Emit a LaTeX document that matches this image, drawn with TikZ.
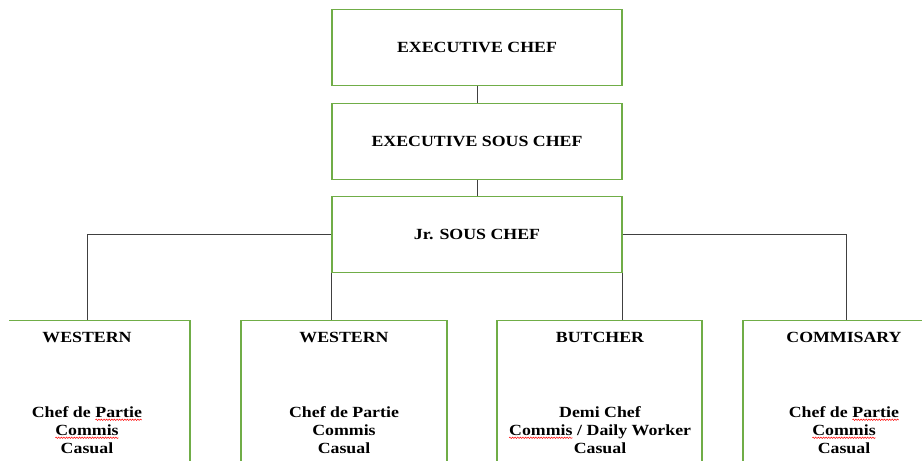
\documentclass[tikz,border=0pt]{standalone}
\usepackage{fontspec}
\newfontfamily\tnr{Liberation Serif}[FakeStretch=1.15]
\usetikzlibrary{decorations.pathmorphing}
\definecolor{boxgreen}{HTML}{70AD47}
\definecolor{linegray}{HTML}{404040}
\newcommand\sqw[1]{\tikz[baseline=(w.base)]{\node[inner sep=0pt,outer sep=0pt,anchor=base](w) at (0,0){#1};\draw[red,line width=0.5pt,decorate,decoration={snake,amplitude=0.7pt,segment length=2.6pt}]([yshift=-2.4pt]w.base west)--([yshift=-2.4pt]w.base east);}}
\begin{document}
\begin{tikzpicture}[x=1pt,y=-1pt,
  box/.style={draw=boxgreen,line width=1.3pt,fill=white,inner sep=0pt},
  topbox/.style={box,minimum width=290pt,minimum height=76pt},
  lowbox/.style={box,minimum width=206pt,minimum height=160pt},
  lbl/.style={font=\tnr\bfseries\fontsize{15.5}{18}\selectfont,align=center,inner sep=0pt},
  conn/.style={draw=linegray,line width=1pt}]
\useasboundingbox (0,0) rectangle (922,461);
\clip (9,0) rectangle (922,461);
% top boxes
\node[topbox] (ec) at (477,47.5) {};
\node[topbox] (esc) at (477,141.5) {};
\node[topbox] (jr) at (477,234.5) {};
\node[lbl] (tec) at (ec.center) {EXECUTIVE CHEF};
\node[lbl] (tesc) at (esc.center) {EXECUTIVE SOUS CHEF};
\node[lbl] (tjr) at (jr.center) {Jr. SOUS CHEF};
% lower boxes
\node[lowbox] (bA) at (87,400.5) {};
\node[lowbox] (bB) at (344,400.5) {};
\node[lowbox,minimum width=205pt] (bC) at (599.5,400.5) {};
\node[lowbox] (bD) at (846,400.5) {};
\node[lbl] (tA) at (87,337) {WESTERN};
\node[lbl] (tB) at (344,337) {WESTERN};
\node[lbl] (tC) at (600,337) {BUTCHER};
\node[lbl] (tD) at (844,337) {COMMISARY};
\node[lbl] (lA) at (87,430) {Chef de \sqw{Partie}\\ \sqw{Commis}\\ Casual};
\node[lbl] (lB) at (344,430) {Chef de Partie\\ Commis\\ Casual};
\node[lbl] (lC) at (600,430) {Demi Chef\\ \sqw{Commis} / Daily Worker\\ Casual};
\node[lbl] (lD) at (844,430) {Chef de \sqw{Partie}\\ \sqw{Commis}\\ Casual};
% connectors
\draw[conn] (ec.south) -- (esc.north);
\draw[conn] (esc.south) -- (jr.north);
\draw[conn] (jr.west) -| (bA.north);
\draw[conn] (jr.east) -| (bD.north);
\draw[conn] (jr.south west) -- (jr.south west |- bB.north);
\draw[conn] (jr.south east) -- (jr.south east |- bC.north);
\end{tikzpicture}
\end{document}
